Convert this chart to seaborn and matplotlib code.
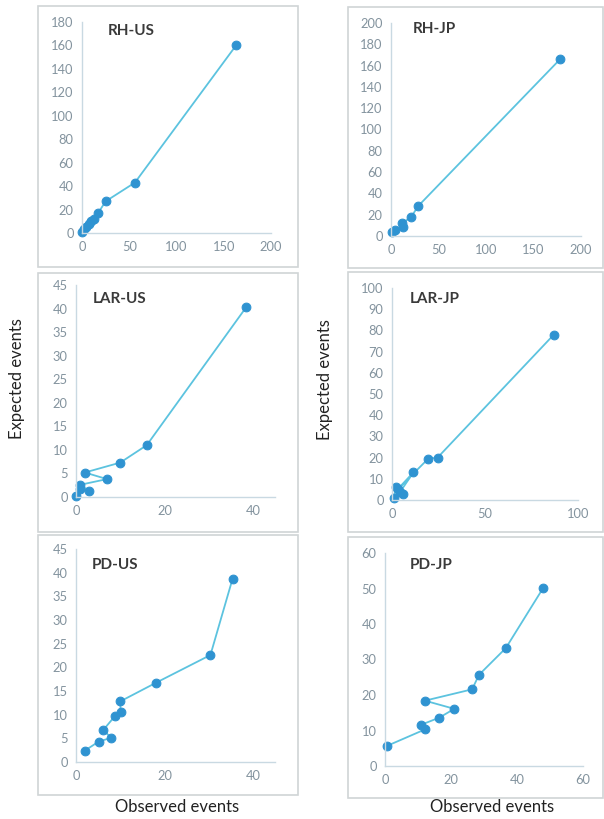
import matplotlib
matplotlib.use("Agg")
import matplotlib.pyplot as plt
from matplotlib.patches import Rectangle
import seaborn as sns

# Observed vs expected events
rh_us_obs = [0.5, 2, 4, 7, 10, 13, 17, 25, 56, 163]
rh_us_exp = [0.5, 3, 5, 8, 10, 12, 17, 27, 43, 160]

rh_jp_obs = [1, 4.5, 13, 11.5, 21, 28.5, 178]
rh_jp_exp = [4, 5.4, 8, 12, 17.5, 28, 166]

lar_us_obs = [0, 1, 3, 1, 7, 2, 10, 16, 38.5]
lar_us_exp = [0.3, 1.6, 1.3, 2.6, 3.8, 5.2, 7.3, 11, 40.3]

lar_jp_obs = [1, 2, 6, 4.5, 11.5, 3, 19.5, 24.5, 87]
lar_jp_exp = [0.8, 6, 2.6, 4, 13, 5, 19.5, 20, 78]

pd_us_obs = [2, 5.1, 7.9, 6.2, 8.9, 10.1, 10, 18, 30.4, 35.4]
pd_us_exp = [2.4, 4.3, 5.1, 6.8, 9.8, 10.5, 12.8, 16.7, 22.6, 38.7]

pd_jp_obs = [0.7, 12.1, 10.9, 16.4, 21, 12.1, 26.4, 28.5, 36.6, 47.9]
pd_jp_exp = [5.7, 10.3, 11.6, 13.6, 16.1, 18.4, 21.6, 25.7, 33.2, 50.1]

titles = ["RH-US", "RH-JP", "LAR-US", "LAR-JP", "PD-US", "PD-JP"]

W, H = 604, 819
LINE_COLOR = "#5cc3df"
MARKER_COLOR = "#2f93d1"
AXIS_COLOR = "#c9d9e2"
TICK_COLOR = "#83939e"

sns.set_style("white")
plt.rcParams["font.family"] = ["Lato", "DejaVu Sans"]

fig = plt.figure(figsize=(W / 100, H / 100), dpi=100)


def px_axes(l, t, r, b):
    return fig.add_axes([l / W, 1 - b / H, (r - l) / W, (b - t) / H])


def box(l, t, r, b):
    fig.patches.append(Rectangle((l / W, 1 - b / H), (r - l) / W, (b - t) / H,
                                 transform=fig.transFigure, fill=False,
                                 edgecolor="#d0d4d6", linewidth=1.2))


panels = [
    # data, title, axes px box, frame px box, title pos, xlim, xticks, ylim, yticks
    (rh_us_obs, rh_us_exp, titles[0], (82, 22, 271, 233), (38, 6, 298, 267), (108, 31),
     200, range(0, 201, 50), 180, range(0, 181, 20)),
    (rh_jp_obs, rh_jp_exp, titles[1], (391, 23, 581, 236), (348, 7, 603, 268), (413, 29),
     200, range(0, 201, 50), 200, range(0, 201, 20)),
    (lar_us_obs, lar_us_exp, titles[2], (76, 285, 275, 497), (38, 273, 298, 532), (93, 299),
     45, [0, 20, 40], 45, range(0, 46, 5)),
    (lar_jp_obs, lar_jp_exp, titles[3], (392, 288, 578, 500), (348, 272, 603, 532), (410, 299),
     100, [0, 50, 100], 100, range(0, 101, 10)),
    (pd_us_obs, pd_us_exp, titles[4], (76, 549, 275, 762), (38, 535, 298, 795), (92, 565),
     45, [0, 20, 40], 45, range(0, 46, 5)),
    (pd_jp_obs, pd_jp_exp, titles[5], (385, 553, 583, 766), (348, 537, 603, 798), (410, 565),
     60, range(0, 61, 20), 60, range(0, 61, 10)),
]

for obs, exp, title, axbox, frame, tpos, xmax, xt, ymax, yt in panels:
    box(*frame)
    ax = px_axes(*axbox)
    sns.lineplot(x=obs, y=exp, sort=False, estimator=None, ax=ax, color=LINE_COLOR,
                 linewidth=1.3, marker="o", markersize=6.3,
                 markerfacecolor=MARKER_COLOR, markeredgecolor=MARKER_COLOR)
    for ln in ax.lines:
        ln.set_clip_on(False)
    ax.set_xlim(0, xmax)
    ax.set_ylim(0, ymax)
    ax.set_xticks(list(xt))
    ax.set_yticks(list(yt))
    ax.tick_params(length=0, labelsize=9.3, labelcolor=TICK_COLOR, pad=6)
    for side in ["top", "right"]:
        ax.spines[side].set_visible(False)
    for side in ["left", "bottom"]:
        ax.spines[side].set_color(AXIS_COLOR)
        ax.spines[side].set_linewidth(1.0)
    ax.patch.set_alpha(0)
    fig.text(tpos[0] / W, 1 - tpos[1] / H, title, ha="left", va="center",
             fontsize=11, color="#3a3a3a", fontweight="bold")

# shared axis labels
for x, y in [(17, 379), (325, 380)]:
    fig.text(x / W, 1 - y / H, "Expected events", rotation=90, ha="center",
             va="center", fontsize=12, color="#222222")
for x in [177, 492]:
    fig.text(x / W, 1 - 807 / H, "Observed events", ha="center", va="center",
             fontsize=12, color="#222222")

fig.savefig("out.png", dpi=100)
